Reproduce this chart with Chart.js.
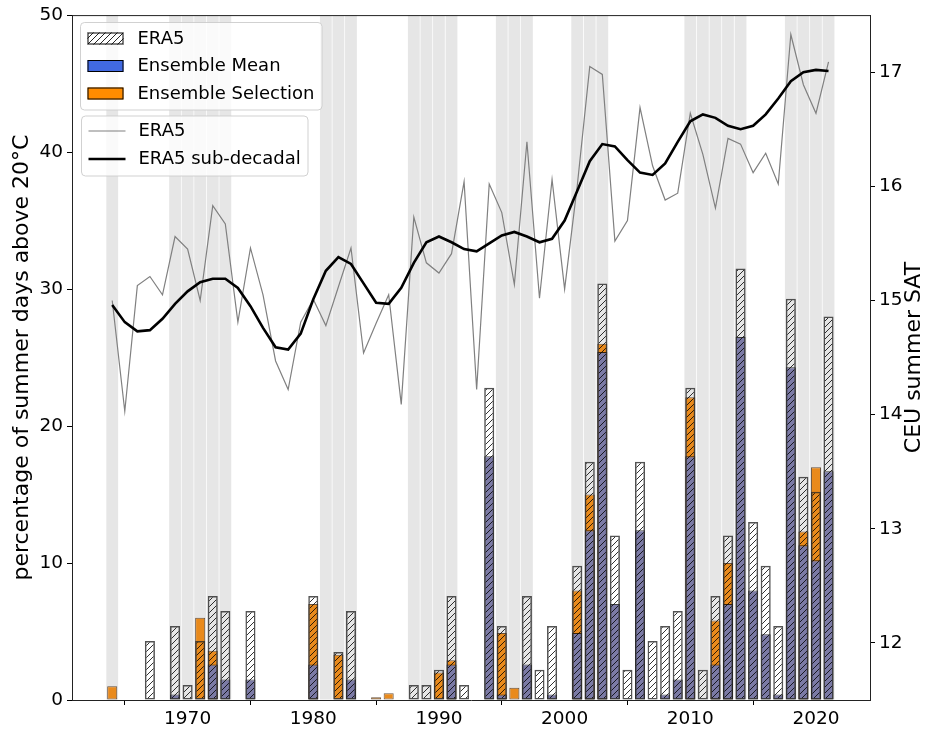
<!DOCTYPE html>
<html>
<head>
<meta charset="utf-8">
<script src="https://cdn.jsdelivr.net/npm/chart.js@4.4.1/dist/chart.umd.min.js"></script>
<style>
  html, body { margin: 0; padding: 0; background: #fff; }
  #wrap { width: 926px; height: 731px; }
</style>
</head>
<body>
<div id="wrap"><canvas id="myChart" width="926" height="731"></canvas></div>
<script>
// years on the x axis
const years = [1964, 1965, 1966, 1967, 1968, 1969, 1970, 1971, 1972, 1973,
  1974, 1975, 1976, 1977, 1978, 1979, 1980, 1981, 1982, 1983,
  1984, 1985, 1986, 1987, 1988, 1989, 1990, 1991, 1992, 1993,
  1994, 1995, 1996, 1997, 1998, 1999, 2000, 2001, 2002, 2003,
  2004, 2005, 2006, 2007, 2008, 2009, 2010, 2011, 2012, 2013,
  2014, 2015, 2016, 2017, 2018, 2019, 2020, 2021];

// percentage of summer days above 20°C (left axis)
const era5Days = [0, 0, 0, 4.3, 0, 5.4, 1.1, 4.3, 7.6, 6.5,
  0, 6.5, 0, 0, 0, 0, 7.6, 0, 3.5, 6.5,
  0, 0, 0, 0, 1.1, 1.1, 2.2, 7.6, 1.1, 0,
  22.8, 5.4, 0, 7.6, 2.2, 5.4, 0, 9.8, 17.4, 30.4,
  12.0, 2.2, 17.4, 4.3, 5.4, 6.5, 22.8, 2.2, 7.6, 12.0,
  31.5, 13.0, 9.8, 5.4, 29.3, 16.3, 15.2, 28.0];
const ensMeanDays = [0, 0, 0, 0, 0, 0.4, 0, 0, 2.6, 1.5,
  0, 1.5, 0, 0, 0, 0, 2.6, 0, 0, 1.5,
  0, 0, 0, 0, 0, 0, 0, 2.6, 0, 0,
  17.8, 0.4, 0, 2.6, 0, 0.4, 0, 4.9, 12.4, 25.4,
  7.0, 0, 12.4, 0, 0.4, 1.5, 17.8, 0, 2.6, 7.0,
  26.5, 8.0, 4.8, 0.4, 24.3, 11.3, 10.2, 16.7];
const ensSelDays = [1.0, 0, 0, 0, 0, 0, 0, 6.0, 3.6, 0,
  0, 0, 0, 0, 0, 0, 7.0, 0, 3.3, 0,
  0, 0.2, 0.5, 0, 0, 0, 2.0, 2.9, 0, 0,
  0, 4.9, 0.9, 0, 0, 0, 0, 8.0, 15.0, 26.0,
  0, 0, 0, 0, 0, 0, 22.1, 0, 5.8, 10.0,
  0, 0, 0, 0, 0, 12.3, 17.0, 0];

// CEU summer SAT (right axis)
const era5Sat = [15.00, 14.03, 15.13, 15.21, 15.05, 15.56, 15.45, 15.00, 15.83, 15.67,
  14.81, 15.46, 15.05, 14.47, 14.22, 14.81, 15.01, 14.78, 15.12, 15.46,
  14.54, 14.80, 15.05, 14.09, 15.73, 15.33, 15.24, 15.41, 16.04, 14.22,
  16.02, 15.77, 15.14, 16.39, 15.02, 16.06, 15.10, 16.00, 17.05, 16.98,
  15.52, 15.70, 16.69, 16.18, 15.88, 15.94, 16.64, 16.28, 15.81, 16.42,
  16.37, 16.12, 16.29, 16.02, 17.33, 16.89, 16.64, 17.09];
const era5SatSmooth = [14.96, 14.81, 14.73, 14.74, 14.84, 14.97, 15.08, 15.16, 15.19, 15.19,
  15.11, 14.95, 14.76, 14.59, 14.57, 14.71, 15.01, 15.26, 15.38, 15.32,
  15.15, 14.98, 14.97, 15.11, 15.33, 15.51, 15.56, 15.51, 15.45, 15.43,
  15.50, 15.57, 15.60, 15.56, 15.51, 15.54, 15.70, 15.96, 16.22, 16.37,
  16.35, 16.23, 16.12, 16.10, 16.20, 16.39, 16.57, 16.63, 16.60, 16.53,
  16.50, 16.53, 16.63, 16.77, 16.92, 17.00, 17.02, 17.01];

// shaded years
const bandYears = [1964, 1969, 1970, 1971, 1972, 1973, 1981, 1982, 1983,
  1988, 1989, 1990, 1991, 1995, 1996, 1997, 2001, 2002, 2003,
  2010, 2011, 2012, 2013, 2014, 2018, 2019, 2020, 2021];

// ticks
const xTicks = [1970, 1980, 1990, 2000, 2010, 2020];
const dayTicks = [0, 10, 20, 30, 40, 50];
const satTicks = [12, 13, 14, 15, 16, 17];

const FONT = 'DejaVu Sans';

// diagonal hatch like matplotlib '///'
function makeHatch(color, bg) {
  const s = 6;
  const c = document.createElement('canvas');
  c.width = s; c.height = s;
  const g = c.getContext('2d');
  if (bg) { g.fillStyle = bg; g.fillRect(0, 0, s, s); }
  g.strokeStyle = color;
  g.lineWidth = 1;
  g.beginPath();
  g.moveTo(0, s); g.lineTo(s, 0);
  g.moveTo(-1, 1); g.lineTo(1, -1);
  g.moveTo(s - 1, s + 1); g.lineTo(s + 1, s - 1);
  g.stroke();
  return g.createPattern(c, 'repeat');
}
const hatch = makeHatch('rgba(0,0,0,0.8)');
const hatchLegend = makeHatch('rgba(0,0,0,0.85)', '#ffffff');

const pts = vals => years.map((yr, i) => ({x: yr, y: vals[i]}));

function roundRect(ctx, x, y, w, h, r) {
  ctx.beginPath();
  ctx.moveTo(x + r, y);
  ctx.lineTo(x + w - r, y);
  ctx.arcTo(x + w, y, x + w, y + r, r);
  ctx.lineTo(x + w, y + h - r);
  ctx.arcTo(x + w, y + h, x + w - r, y + h, r);
  ctx.lineTo(x + r, y + h);
  ctx.arcTo(x, y + h, x, y + h - r, r);
  ctx.lineTo(x, y + r);
  ctx.arcTo(x, y, x + r, y, r);
  ctx.closePath();
}

function drawLegend(ctx, chart, group, box, rowH) {
  const items = chart.data.datasets
    .filter(d => d.legendGroup === group)
    .sort((a, b) => a.legendRank - b.legendRank);
  ctx.save();
  roundRect(ctx, box.x, box.y, box.w, box.h, 4);
  ctx.fillStyle = 'rgba(255,255,255,0.8)';
  ctx.fill();
  ctx.strokeStyle = 'rgba(204,204,204,0.9)';
  ctx.lineWidth = 1;
  ctx.stroke();
  ctx.font = '18px "' + FONT + '"';
  ctx.textBaseline = 'middle';
  items.forEach((d, i) => {
    const cy = box.y + box.first + i * rowH;
    const sx = box.x + 7, sw = 36;
    if (d.type === 'line') {
      ctx.strokeStyle = d.borderColor;
      ctx.lineWidth = d.borderWidth;
      ctx.beginPath();
      ctx.moveTo(sx, cy); ctx.lineTo(sx + sw + 1, cy);
      ctx.stroke();
    } else {
      ctx.fillStyle = d.legendFill;
      ctx.fillRect(sx, cy - 6, sw, 12);
      ctx.strokeStyle = '#000';
      ctx.lineWidth = 1;
      ctx.strokeRect(sx + 0.5, cy - 5.5, sw - 1, 11);
    }
    ctx.fillStyle = '#000';
    ctx.fillText(d.label, box.x + 57, cy + 0.5);
  });
  ctx.restore();
}

const decor = {
  id: 'decor',
  afterDraw(chart) {
    const {ctx, chartArea: a} = chart;
    ctx.save();
    // top spine
    ctx.strokeStyle = '#222';
    ctx.lineWidth = 1;
    ctx.beginPath();
    ctx.moveTo(a.left, a.top + 0.5);
    ctx.lineTo(a.right, a.top + 0.5);
    ctx.stroke();
    // right axis label, reading upwards as in matplotlib
    ctx.translate(chart.scales.yR.right - 12, (a.top + a.bottom) / 2);
    ctx.rotate(-Math.PI / 2);
    ctx.font = '22px "' + FONT + '"';
    ctx.textAlign = 'center';
    ctx.textBaseline = 'middle';
    ctx.fillStyle = '#000';
    ctx.fillText('CEU summer SAT', 0, 0);
    ctx.restore();

    drawLegend(ctx, chart, 1, {x: 80.5, y: 22.5, w: 241.5, h: 87.5, first: 16}, 27.5);
    drawLegend(ctx, chart, 2, {x: 81.5, y: 116, w: 226.5, h: 60, first: 15}, 28);
  }
};

const ctxEl = document.getElementById('myChart').getContext('2d');

const tickFont = {family: FONT, size: 18.5};

new Chart(ctxEl, {
  type: 'bar',
  data: {
    datasets: [
      {
        type: 'line',
        label: 'ERA5 sub-decadal',
        legendGroup: 2,
        legendRank: 2,
        data: pts(era5SatSmooth),
        yAxisID: 'yR',
        borderColor: '#000000',
        borderWidth: 2.6,
        pointRadius: 0,
        tension: 0,
        fill: false,
        order: 0
      },
      {
        type: 'line',
        label: 'ERA5',
        legendGroup: 2,
        legendRank: 1,
        data: pts(era5Sat),
        yAxisID: 'yR',
        borderColor: '#808080',
        borderWidth: 1.2,
        pointRadius: 0,
        tension: 0,
        fill: false,
        order: 1
      },
      {
        label: 'ERA5',
        legendGroup: 1,
        legendRank: 1,
        legendFill: hatchLegend,
        data: pts(era5Days),
        yAxisID: 'y',
        backgroundColor: hatch,
        borderColor: 'rgba(40,40,40,0.8)',
        borderWidth: 1.5,
        borderSkipped: false,
        grouped: false,
        categoryPercentage: 1,
        barPercentage: 0.8,
        order: 2
      },
      {
        label: 'Ensemble Mean',
        legendGroup: 1,
        legendRank: 2,
        legendFill: '#4169e1',
        data: pts(ensMeanDays),
        yAxisID: 'y',
        backgroundColor: '#7b7aa5',
        borderColor: 'rgba(0,0,0,0.75)',
        borderWidth: 1,
        borderSkipped: false,
        grouped: false,
        categoryPercentage: 1,
        barPercentage: 0.8,
        order: 3
      },
      {
        label: 'Ensemble Selection',
        legendGroup: 1,
        legendRank: 3,
        legendFill: '#ff8c00',
        data: pts(ensSelDays),
        yAxisID: 'y',
        backgroundColor: '#e98a1c',
        borderColor: 'rgba(60,30,0,0.75)',
        borderWidth: 1,
        borderSkipped: false,
        grouped: false,
        categoryPercentage: 1,
        barPercentage: 0.8,
        order: 4
      },
      {
        label: 'shading',
        data: bandYears.map(yr => ({x: yr, y: dayTicks[dayTicks.length - 1]})),
        yAxisID: 'y',
        backgroundColor: 'rgba(128,128,128,0.2)',
        borderWidth: 0,
        grouped: false,
        categoryPercentage: 1,
        barPercentage: 0.94,
        order: 5
      }
    ]
  },
  options: {
    responsive: false,
    animation: false,
    layout: { padding: { top: 13.5, left: 0, right: 0, bottom: 0 } },
    plugins: {
      legend: { display: false },
      tooltip: { enabled: false }
    },
    scales: {
      x: {
        type: 'linear',
        offset: false,
        min: 1960.8,
        max: 2024.3,
        afterBuildTicks: s => { s.ticks = xTicks.map(v => ({value: v})); },
        afterFit: s => { s.height = 31; },
        grid: { display: true, drawOnChartArea: false, drawTicks: true, tickLength: 5, tickColor: '#000' },
        border: { display: true, color: '#222', width: 1 },
        ticks: { font: tickFont, color: '#000', padding: 3, maxRotation: 0, callback: v => String(v) }
      },
      y: {
        position: 'left',
        min: 0,
        max: 50,
        afterBuildTicks: s => { s.ticks = dayTicks.map(v => ({value: v})); },
        afterFit: s => { s.width = 72; },
        grid: { display: true, drawOnChartArea: false, drawTicks: true, tickLength: 5, tickColor: '#000' },
        border: { display: true, color: '#222', width: 1 },
        ticks: { font: tickFont, color: '#000', padding: 4 },
        title: {
          display: true,
          text: 'percentage of summer days above 20°C',
          font: {family: FONT, size: 22},
          color: '#000',
          padding: {top: 9, bottom: 0}
        }
      },
      yR: {
        position: 'right',
        min: 11.5,
        max: 17.5,
        afterBuildTicks: s => { s.ticks = satTicks.map(v => ({value: v})); },
        afterFit: s => { s.width = 56; },
        grid: { display: true, drawOnChartArea: false, drawTicks: true, tickLength: 5, tickColor: '#000' },
        border: { display: true, color: '#222', width: 1 },
        ticks: { font: tickFont, color: '#000', padding: 4 }
      }
    }
  },
  plugins: [decor]
});
</script>
</body>
</html>
